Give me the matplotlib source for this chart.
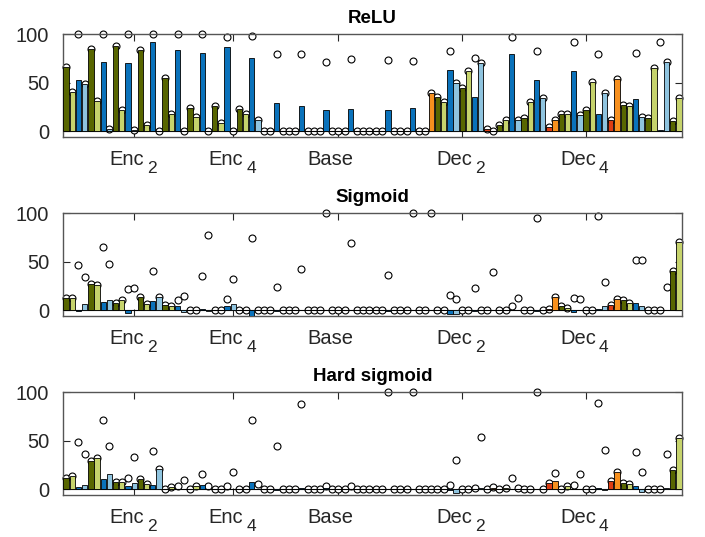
import numpy as np
import matplotlib
matplotlib.use('Agg')
import matplotlib.pyplot as plt

plt.rcParams['font.family'] = ['Liberation Sans', 'DejaVu Sans']

# layer type of every parameter group (o: conv W, y: conv b, b: act, l: norm, r/n: skip)
layer_kind = ("oybl" * 8 + "oybl" * 4 + "oyoy" + "bl" + "oy" + "bl" + "rn"
              + "oybl" + "oybl" + "rn" + "oybl" + "oybl" + "rn" + "oybl" + "oybl"
              + "rn" + "oybl" + "oybl" + "oy")

tick_pos = [11, 27, 44, 64, 84]
tick_names = ['Enc', 'Enc', 'Base', 'Dec', 'Dec']
tick_subs = ['2', '4', '', '2', '4']

relu_bar = [66, 40.5, 52.6, 49, 85, 31, 71, 2.5, 87.6, 21.6, 70, 1, 83.5, 6, 92, 0,
            55, 18, 84, 0, 23.7, 14.8, 80, 0, 26, 8, 87, 0, 22.7, 17.5, 75.6, 11,
            0, 0, 28.8, 0, 0, 0, 26, 0, 0, 0, 21.6, 0, 0, 0, 23, 0,
            0, 0, 0, 0, 21.6, 0, 0, 0, 24, 0, 0, 39, 34.7, 30, 63, 50,
            44, 61.5, 35.4, 70, 2, 0.5, 6, 12, 79, 11, 14, 30, 53, 33.7, 4.5, 11,
            17.5, 17.5, 62, 16.5, 21.6, 51, 18, 39.5, 12, 53.6, 26.8, 25.8, 32.6, 14.8, 14, 64.6,
            1, 71.5, 10.3, 33.7]
relu_dot = [66, 40.5, 100, 49, 85, 31, 100, 2.5, 87.6, 21.6, 100, 1, 83.5, 6, 100, 0,
            55, 18, 100, 0, 23.7, 14.8, 100, 0, 26, 8, 96.6, 0, 22.7, 17.5, 98, 11,
            0, 0, 79, 0, 0, 0, 79, 0, 0, 0, 71, 0, 0, 0, 74, 0,
            0, 0, 0, 0, 73, 0, 0, 0, 72, 0, 0, 39, 34.7, 30, 83, 50,
            44, 61.5, 75, 70, 2, 0.5, 6, 12, 96.6, 11, 14, 30, 82, 33.7, 4.5, 11,
            17.5, 17.5, 92, 16.5, 21.6, 51, 79, 39.5, 12, 53.6, 26.8, 25.8, 80, 14.8, 14, 64.6,
            92, 71.5, 10.3, 33.7]

sig_bar = [13, 13, -1, 6, 26.6, 26, 8.5, 10.5, 7.8, 10, -3, 0, 13.6, 6.8, 9.2, 14,
           5, 4.4, 3.8, -2, 0.5, 0, 1, -1, 0, 0, 3.8, 6, 0, 0, -6, 0,
           0, 0, -1, 0, 0, 0, 0.5, 0, 0, 0, 0.5, 0, 0, 0, 0, 0,
           0, 0, 0, 0, -1, 0, 0, 0, 0, 0, 0, 0, 0, 0, -4, -4,
           0, 0, -1, 0, 0, 0, 0, 0, 0.5, 0, 0, 0, -1, 0, 1.5, 14,
           3.8, 2, -2, 0, 0, 0, 1, 3.8, 5, 12, 10.5, 7.8, 7.8, 4.5, 0, 0,
           0, 0, 40, 70]
sig_dot = [13, 13, 46, 34, 26.6, 26, 65, 48, 7.8, 10, 22, 23, 13.6, 6.8, 40, 14,
           5, 4.4, 10, 14.6, 0, 0, 35, 77, 0, 0, 11, 32, 0, 0, 74, 0,
           0, 0, 24, 0, 0, 0, 42, 0, 0, 0, 100, 0, 0, 0, 69, 0,
           0, 0, 0, 0, 36, 0, 0, 0, 100, 0, 0, 100, 0, 0, 16, 12,
           0, 0, 23, 0, 0, 39, 0, 0, 4.4, 13, 0, 0, 95, 0, 1.5, 14,
           3.8, 2, 13, 11, 0, 0, 97, 29, 5, 12, 10.5, 7.8, 52, 52, 0, 0,
           0, 24, 40, 70]

hsig_bar = [12, 13.6, 2.7, 5, 29.7, 32.4, 11, 16.4, 7.5, 7.5, 3.4, 6.8, 11, 6, 5, 21.5,
            0, 2.4, 0, 0, 0, 3.4, 5, 0, 0, 0, 0, 0, 0, 0, 8, 0,
            0, 0, -1, 0, 0, 0, 2, 0, 0, 0, 2, 0, 0, 0, 0, 0,
            0, 0, 0, 0, 0, 0, 0, 0, 0, 0, 0, 0, 0, 0, -1, -4,
            0, 0, 0, 1.5, 0, 2, 0, 2, 0.5, 0, 0, 0, 0, 0, 7, 9,
            0, 4, 0, 0, 0, 0, 1.5, -1, 9, 18, 7, 6, 4, -3, 0, 0,
            0, 1, 20, 53]
hsig_dot = [12, 13.6, 49, 37, 29.7, 32.4, 71, 45, 7.5, 7.5, 12, 33.5, 11, 6, 40, 21.5,
            0, 2.4, 4, 10, 0, 3.4, 16, 3.4, 0, 0, 4, 18, 0, 0, 72, 6,
            0, 0, 45, 0, 0, 0, 88, 0, 0, 0, 3.4, 0, 0, 0, 3.4, 0,
            0, 0, 0, 0, 100, 0, 0, 0, 100, 0, 0, 0, 0, 0, 5, 30,
            0, 0, 1, 54.5, 0, 3, 0, 2, 12, 2, 0, 0, 100, 0, 7, 17,
            0, 4, 4.4, 16, 0, 0, 88.7, 41, 9, 18, 7, 6, 38.5, 18, 0, 0,
            0, 37, 20, 53]

panels = [('ReLU', relu_bar, relu_dot),
          ('Sigmoid', sig_bar, sig_dot),
          ('Hard sigmoid', hsig_bar, hsig_dot)]

palette = {'o': '#586600', 'y': '#c6d36c', 'b': '#0a72bb', 'l': '#8fc4df',
           'r': '#dc3d12', 'n': '#f7901e'}
bar_colors = [palette[k] for k in layer_kind]
text_col = '#262626'

fig = plt.figure(figsize=(7.05, 5.37), dpi=100)
W, H = 705, 537
tops = [34, 213, 392.3]
for (title, bars, dots), top in zip(panels, tops):
    ax = fig.add_axes([63 / W, 1 - (top + 103) / H, 619 / W, 103 / H])
    x = np.arange(len(bars))
    ax.plot(x, dots, 'o', ms=5, mfc='white', mec='black', mew=0.8,
            zorder=2, clip_on=False)
    ax.bar(x, bars, width=0.86, color=bar_colors, edgecolor='black',
           linewidth=0.6, zorder=3)
    ax.axhline(0, color='black', lw=0.8, zorder=2.5)
    ax.set_xlim(-0.5, len(bars) - 0.5)
    ax.set_ylim(-6, 100)
    ax.set_yticks([0, 50, 100])
    ax.set_xticks(tick_pos)
    ax.set_xticklabels([])
    ax.tick_params(direction='in', top=True, right=True, length=5,
                   labelsize=14.5, colors=text_col, width=0.8)
    ax.tick_params(axis='y', pad=10)
    for s in ax.spines.values():
        s.set_color('#555555')
        s.set_linewidth(1.0)
    ax.set_title(title, fontsize=13.5, fontweight='bold', pad=8)

    # stage names with a dropped index below the axis
    for p, name, sub in zip(tick_pos, tick_names, tick_subs):
        if sub:
            ax.annotate(name, xy=(p, 0), xycoords=('data', 'axes fraction'),
                        xytext=(10, -13), textcoords='offset pixels',
                        ha='right', va='top', fontsize=14.5, color=text_col)
            ax.annotate(sub, xy=(p, 0), xycoords=('data', 'axes fraction'),
                        xytext=(13, -24), textcoords='offset pixels',
                        ha='left', va='top', fontsize=12.5, color=text_col)
        else:
            ax.annotate(name, xy=(p, 0), xycoords=('data', 'axes fraction'),
                        xytext=(-8, -13), textcoords='offset pixels',
                        ha='center', va='top', fontsize=14.5, color=text_col)

fig.savefig('out.png', dpi=100)
